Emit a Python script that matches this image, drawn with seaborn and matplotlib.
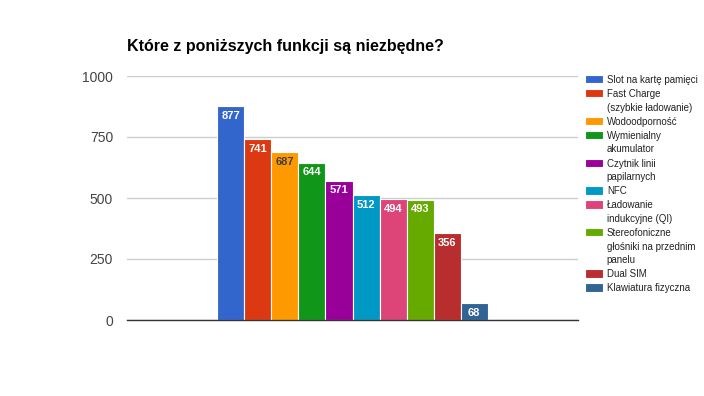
import pandas as pd
import matplotlib.pyplot as plt
import seaborn as sns

funkcje = ["Slot na kartę pamięci", "Fast Charge\n(szybkie ładowanie)", "Wodoodporność",
           "Wymienialny\nakumulator", "Czytnik linii\npapilarnych", "NFC",
           "Ładowanie\nindukcyjne (QI)", "Stereofoniczne\ngłośniki na przednim\npanelu",
           "Dual SIM", "Klawiatura fizyczna"]
glosy = [877, 741, 687, 644, 571, 512, 494, 493, 356, 68]
kolory = ["#3366cc", "#dc3912", "#ff9900", "#109618", "#990099",
          "#0099c6", "#dd4477", "#66aa00", "#b82e2e", "#316395"]

df = pd.DataFrame({"kategoria": [""] * len(funkcje), "funkcja": funkcje, "glosy": glosy})

sns.set_style("white")
plt.rcParams["font.family"] = ["Liberation Sans", "DejaVu Sans"]

fig = plt.figure(figsize=(7.04, 3.96), dpi=100)
ax = fig.add_axes([127 / 704, 1 - 320 / 396, 451 / 704, 244 / 396])

sns.barplot(data=df, x="kategoria", y="glosy", hue="funkcja", palette=kolory,
            width=0.6, edgecolor="white", linewidth=0.8, saturation=1, ax=ax)

ax.set_xlim(-0.5, 0.5)
ax.set_ylim(0, 1000)
ax.set_yticks([0, 250, 500, 750, 1000])
ax.yaxis.grid(True, color="#cccccc", linewidth=1)
ax.set_axisbelow(True)
ax.set_xlabel("")
ax.set_ylabel("")
ax.set_xticks([])
ax.tick_params(axis="y", length=0, pad=10, labelsize=10, labelcolor="#444444")
for s in ["left", "right", "top"]:
    ax.spines[s].set_visible(False)
ax.spines["bottom"].set_color("#333333")
ax.spines["bottom"].set_linewidth(1)

for i, cont in enumerate(ax.containers):
    kolor = "#404040" if kolory[i] == "#ff9900" else "white"
    ax.bar_label(cont, padding=-10.5, color=kolor, fontsize=8, fontweight="bold")

leg = ax.legend(loc="upper left", bbox_to_anchor=(585 / 704, 1 - 75 / 396),
                bbox_transform=fig.transFigure, frameon=False, fontsize=7,
                handlelength=1.9, handleheight=0.95, handletextpad=0.35,
                labelspacing=0.42, borderpad=0, borderaxespad=0,
                labelcolor="#222222")
for t in leg.get_texts():
    t.set_linespacing(1.45)
for kol in leg._legend_handle_box.get_children():
    for wiersz in kol.get_children():
        wiersz.align = "top"

fig.text(127 / 704, 1 - 47 / 396, "Które z poniższych funkcji są niezbędne?",
         fontsize=11.5, fontweight="bold", va="center", ha="left", color="#000000")

fig.savefig("out.png", dpi=100)
